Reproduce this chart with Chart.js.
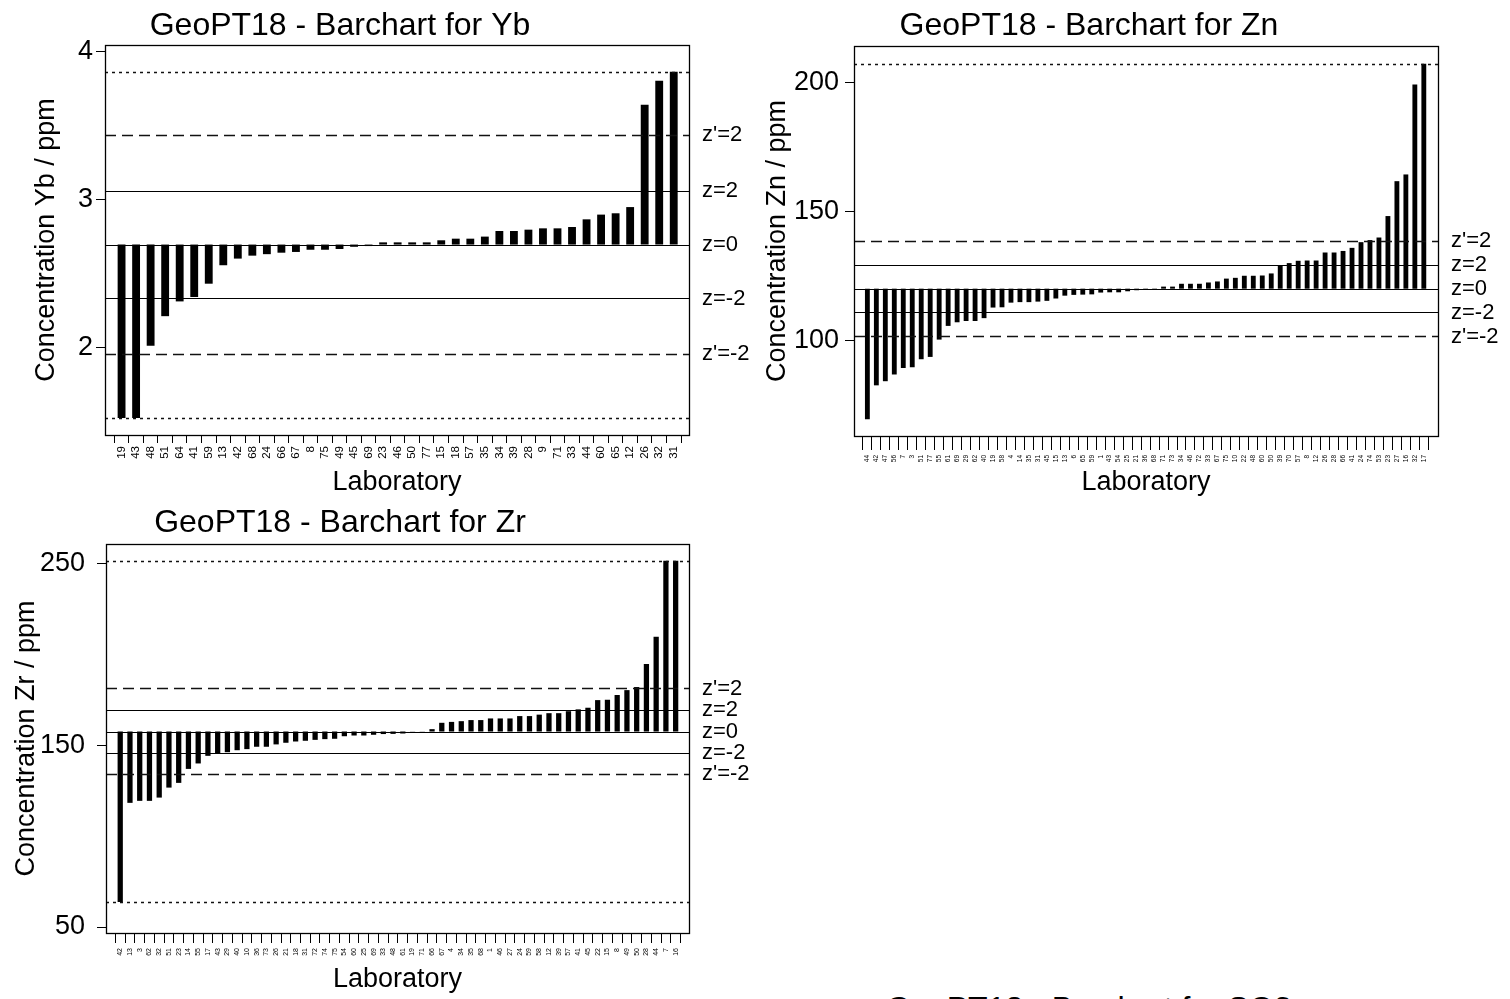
<!DOCTYPE html>
<html><head><meta charset="utf-8">
<script src="https://cdn.jsdelivr.net/npm/chart.js@4.4.0/dist/chart.umd.min.js"></script>
<style>
html,body{margin:0;padding:0;background:#fff;overflow:hidden;width:1510px;height:999px;position:relative;}
canvas{position:absolute;}
#so3{position:absolute;left:1089px;top:992px;transform:translateX(-50%);font:32px/32px "Liberation Sans",Arial,sans-serif;white-space:nowrap;color:#000;}
</style></head><body>
<canvas id="cYb" width="769" height="500" style="left:-9px;top:0px"></canvas>
<canvas id="cZn" width="770" height="500" style="left:740px;top:0px"></canvas>
<canvas id="cZr" width="769" height="502" style="left:-9px;top:497px"></canvas>
<div id="so3">GeoPT18 - Barchart for SO3</div>
<script>
// ---- data ----
const labsYb = ["19","43","48","51","64","41","59","13","42","68","24","66","67","8","75","49","45","69","23","46","50","77","15","18","57","35","34","39","28","9","71","33","44","60","65","12","26","32","31"];
const valsYb = [1.52,1.52,2.01,2.21,2.31,2.34,2.43,2.555,2.60,2.62,2.63,2.64,2.645,2.66,2.66,2.665,2.68,2.685,2.71,2.71,2.71,2.71,2.724,2.735,2.735,2.749,2.787,2.787,2.796,2.805,2.805,2.814,2.866,2.898,2.907,2.949,3.642,3.804,3.865];
const refYb = [3.865, 3.435, 3.06, 2.695, 2.33, 1.955, 1.52];
const ticksYb = [2, 3, 4];

const labsZn = ["44","42","47","56","7","3","51","77","55","61","69","29","62","40","19","58","4","14","35","31","45","15","13","6","65","59","1","43","54","25","21","36","68","71","73","34","46","72","33","67","75","10","22","48","60","50","39","70","57","8","12","26","28","66","41","24","74","53","23","27","16","32","17"];
const valsZn = [69.7,82.8,84.4,87.0,89.5,89.8,92.9,93.8,100.5,105.8,107.2,107.7,107.7,108.8,112.9,113.0,114.8,115.0,115.0,115.2,115.5,116.4,117.5,117.8,117.9,118.0,118.7,118.8,118.8,119.2,119.6,119.8,119.9,121.0,121.0,122.1,122.1,122.1,122.6,123.0,124.1,124.4,125.2,125.2,125.3,126.1,129.3,130.1,131.0,131.1,131.1,134.2,134.2,134.8,136.0,138.2,139.0,140.0,148.3,161.8,164.4,199.2,207.2];
const refZn = [207.2, 138.7, 129.4, 120.2, 111.0, 101.7, null];
const ticksZn = [100, 150, 200];

const labsZr = ["42","13","3","62","32","51","23","14","55","17","43","29","40","10","36","73","26","21","18","31","72","74","75","54","60","25","69","33","48","61","19","71","66","67","4","34","35","68","1","46","27","24","59","58","12","39","57","41","45","22","15","8","49","50","28","44","7","16"];
const valsZr = [63.8,118.4,119.5,119.5,121.3,126.8,129.4,137.1,140.1,144.3,145.6,146.3,147.4,148.0,149.3,149.3,150.6,151.5,152.2,152.6,153.1,153.5,153.7,155.1,155.5,155.5,155.9,156.3,156.4,156.6,157.6,157.8,159.0,162.5,163.0,163.4,164.0,164.0,164.9,164.9,164.9,166.2,166.2,167.0,167.8,167.8,168.9,169.9,170.8,175.0,175.2,177.8,180.5,182.2,194.9,209.9,251.8,251.8];
const refZr = [251.8, 181.4, 169.6, 157.7, 145.9, 134.1, 63.8];
const ticksZr = [50, 150, 250];

const zLabels = ["z'=2", "z=2", "z=0", "z=-2", "z'=-2"];
const lineKinds = ['dot', 'dash', 'solid', 'solid', 'solid', 'dash', 'dot'];

// ---- drawing ----
const FONT = '"Liberation Sans", Arial, sans-serif';

const refPlugin = {
  id: 'refLines',
  afterDatasetsDraw(chart, args, opts) {
    const {ctx, chartArea: a} = chart;
    const y = chart.scales.y;
    ctx.save();
    ctx.beginPath(); ctx.rect(a.left, a.top, a.right - a.left, a.bottom - a.top); ctx.clip();
    opts.values.forEach((v, i) => {
      if (v == null) return;
      const py = Math.round(y.getPixelForValue(v)) + 0.5;
      const k = lineKinds[i];
      ctx.setLineDash(k === 'dot' ? [3, 4] : k === 'dash' ? [11, 6] : []);
      ctx.strokeStyle = k === 'solid' ? '#000' : '#111';
      ctx.lineWidth = k === 'solid' ? 1.2 : 1.3;
      ctx.beginPath(); ctx.moveTo(a.left, py); ctx.lineTo(a.right, py); ctx.stroke();
    });
    ctx.restore();
    ctx.save();
    ctx.font = '22px ' + FONT;
    ctx.fillStyle = '#000'; ctx.textAlign = 'left'; ctx.textBaseline = 'middle';
    zLabels.forEach((t, k) => {
      const v = opts.values[k + 1];
      ctx.fillText(t, a.right + 13, y.getPixelForValue(v));
    });
    ctx.restore();
    ctx.save();
    ctx.strokeStyle = '#000'; ctx.lineWidth = 1.3;
    ctx.strokeRect(Math.round(a.left) + 0.5, Math.round(a.top) + 0.5, Math.round(a.right - a.left), Math.round(a.bottom - a.top));
    ctx.restore();
  }
};

function makeChart(id, labs, vals, refs, yTicks, g) {
  new Chart(document.getElementById(id), {
    type: 'bar',
    data: { datasets: [{
      data: vals.map((v, i) => ({x: i + 1, y: v})),
      base: refs[3],
      backgroundColor: '#000', borderWidth: 0,
      barPercentage: 0.54, categoryPercentage: 1
    }]},
    options: {
      responsive: false, animation: false, events: [],
      layout: {padding: {left: 0, right: g.padR, top: 0, bottom: 0}},
      plugins: {
        legend: {display: false}, tooltip: {enabled: false},
        title: {display: true, text: g.title, color: '#000',
          font: {family: FONT, size: 32, weight: 'normal', lineHeight: 1.2},
          padding: {top: g.tPadT, bottom: g.tPadB}},
        refLines: {values: refs}
      },
      scales: {
        x: {
          type: 'linear', min: g.xMin, max: g.xMax, offset: false,
          grid: {display: true, drawOnChartArea: false, drawTicks: true, tickLength: g.xTickLen, color: '#000', lineWidth: 1},
          border: {display: false},
          ticks: {autoSkip: false, minRotation: 90, maxRotation: 90, padding: g.xLabPad, color: '#000',
            font: {family: FONT, size: g.xLabSize}, callback: (v, i) => labs[i]},
          afterBuildTicks: (s) => { s.ticks = labs.map((_, i) => ({value: i + 1})); },
          afterFit: (s) => { s.height = g.xH; },
          title: {display: true, text: 'Laboratory', color: '#000', font: {family: FONT, size: 27, lineHeight: 1.2},
            padding: {top: 0, bottom: g.xTitlePadB}}
        },
        y: {
          type: 'linear', min: g.yMin, max: g.yMax,
          grid: {display: true, drawOnChartArea: false, drawTicks: true, tickLength: 9, color: '#000', lineWidth: 1},
          border: {display: false},
          ticks: {padding: g.yLabPad, color: '#000', font: {family: FONT, size: 27}, callback: (v) => String(v)},
          afterBuildTicks: (s) => { s.ticks = yTicks.map(v => ({value: v})); },
          afterFit: (s) => { s.width = g.yW; },
          title: {display: true, text: g.yTitle, color: '#000', font: {family: FONT, size: 27, lineHeight: 1.2},
            padding: {top: g.yTitlePadT, bottom: 0}}
        }
      }
    },
    plugins: [refPlugin]
  });
}

makeChart('cYb', labsYb, valsYb, refYb, ticksYb, {
  title: 'GeoPT18 - Barchart for Yb', yTitle: 'Concentration Yb / ppm',
  padR: 71, tPadT: 6.8, tPadB: -0.2, xH: 65, xTitlePadB: 0.8, yW: 114, yTitlePadT: 39.8, yLabPad: 3,
  xMin: -0.14, xMax: 40.05, yMin: 1.405, yMax: 4.047,
  xTickLen: 8, xLabPad: 3, xLabSize: 11.5
});
makeChart('cZn', labsZn, valsZn, refZn, ticksZn, {
  title: 'GeoPT18 - Barchart for Zn', yTitle: 'Concentration Zn / ppm',
  padR: 72, tPadT: 6.8, tPadB: 0.8, xH: 64, xTitlePadB: 0.8, yW: 114, yTitlePadT: 21.8, yLabPad: 6,
  xMin: -0.49, xMax: 64.58, yMin: 63.2, yMax: 214.1,
  xTickLen: 14, xLabPad: 5, xLabSize: 6.5
});
makeChart('cZr', labsZr, valsZr, refZr, ticksZr, {
  title: 'GeoPT18 - Barchart for Zr', yTitle: 'Concentration Zr / ppm',
  padR: 71, tPadT: 6.8, tPadB: 1.8, xH: 66, xTitlePadB: 2.8, yW: 115, yTitlePadT: 19.8, yLabPad: 12,
  xMin: -0.46, xMax: 59.37, yMin: 46.7, yMax: 261.0,
  xTickLen: 10, xLabPad: 5, xLabSize: 7
});
</script>
</body></html>
